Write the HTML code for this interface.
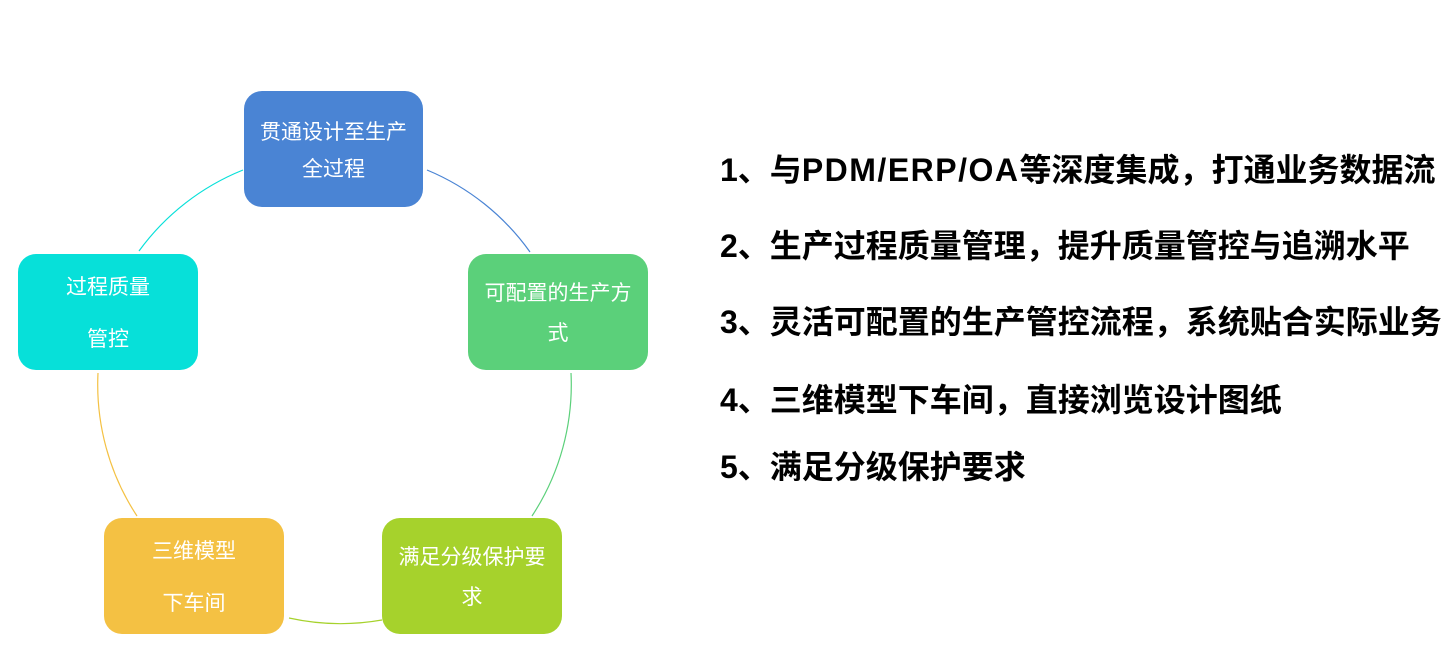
<!DOCTYPE html>
<html><head><meta charset="utf-8"><style>
body{margin:0;width:1454px;height:672px;background:#fff;overflow:hidden;position:relative;font-family:"Liberation Sans","Noto Sans CJK SC",sans-serif}
.b{position:absolute;width:180px;height:116px;border-radius:18px;color:#fff;font-size:21px;display:flex;flex-direction:column;justify-content:center;align-items:center;text-align:center;padding-top:3px;box-sizing:border-box}
.t{position:absolute;left:720px;font-size:32px;font-weight:bold;color:#000;white-space:nowrap;line-height:1}
</style></head><body>
<svg width="1454" height="672" style="position:absolute;left:0;top:0">
<g fill="none" stroke-width="1.2">
<path d="M427,170 A239,239 0 0 1 530,252" stroke="#4a84d4"/>
<path d="M571,373 A239,239 0 0 1 532,516" stroke="#5bd07a"/>
<path d="M289,618 A239,239 0 0 0 382,620" stroke="#a6d22c"/>
<path d="M98,373 A239,239 0 0 0 137,516" stroke="#f4c143"/>
<path d="M139,251 A239,239 0 0 1 243,170" stroke="#07e0d9"/>
</g></svg>
<div class="b" style="left:244px;top:91px;width:179px;background:#4a84d4;line-height:37px">贯通设计至生产<br>全过程</div>
<div class="b" style="left:468px;top:254px;background:#5bd07a;line-height:40px">可配置的生产方<br>式</div>
<div class="b" style="left:382px;top:518px;background:#a6d22c;line-height:40px">满足分级保护要<br>求</div>
<div class="b" style="left:104px;top:518px;background:#f4c143;line-height:52px">三维模型<br>下车间</div>
<div class="b" style="left:18px;top:254px;background:#07e0d9;line-height:52px">过程质量<br>管控</div>
<div class="t" style="top:154px">1、与<span style="letter-spacing:1.5px">PDM/ERP/OA</span>等深度集成，打通业务数据流</div>
<div class="t" style="top:230px">2、生产过程质量管理，提升质量管控与追溯水平</div>
<div class="t" style="top:306px">3、灵活可配置的生产管控流程，系统贴合实际业务</div>
<div class="t" style="top:384px">4、三维模型下车间，直接浏览设计图纸</div>
<div class="t" style="top:451px">5、满足分级保护要求</div>
</body></html>
